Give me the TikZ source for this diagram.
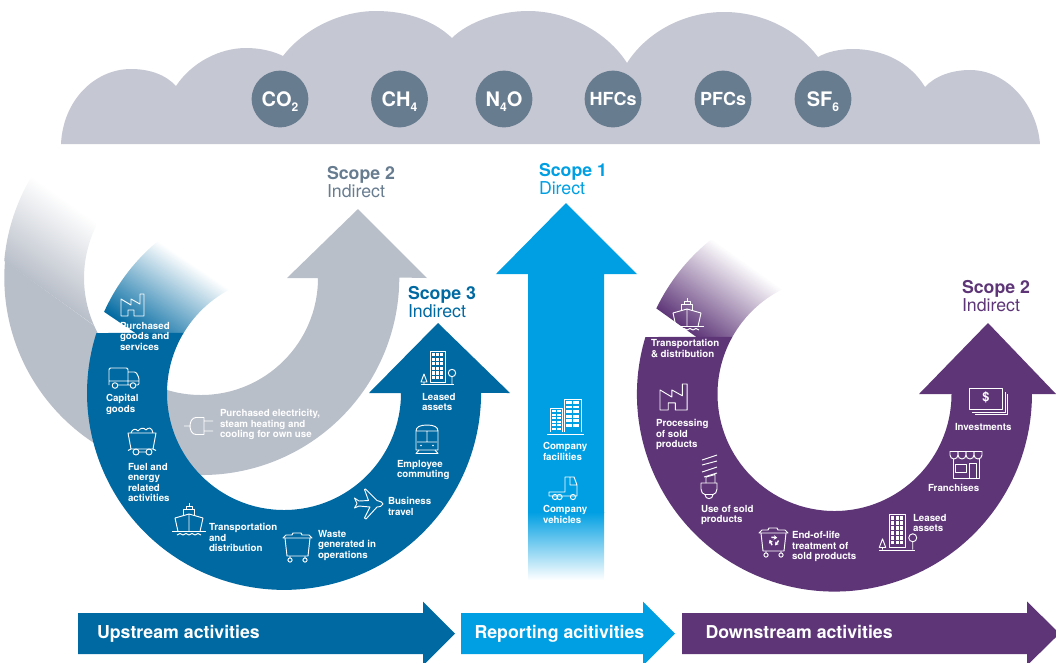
\documentclass[tikz,border=0pt]{standalone}
\usepackage{fontspec}
\setmainfont{TeX Gyre Heros}
\usetikzlibrary{arrows.meta}
\definecolor{cloudgrey}{HTML}{C5C7D3}
\definecolor{gasgrey}{HTML}{687C90}
\definecolor{scopegrey}{HTML}{B9BFC9}
\definecolor{scopeblue}{HTML}{0069A1}
\definecolor{scopecyan}{HTML}{009FE3}
\definecolor{scopepurple}{HTML}{5E3678}
\newcommand{\gassub}[1]{\smash{\raisebox{-0.5ex}{\fontsize{9}{9}\selectfont #1}}}
\tikzset{every picture/.style={line width=0.75pt},
  iconline/.style={draw=white,line width=0.7pt,line join=round},
  gascircle/.style={circle,fill=gasgrey,text=white,minimum size=42.5pt,inner sep=0pt,font=\bfseries\fontsize{15}{15}\selectfont},
  iconlabel/.style={anchor=north west,inner sep=0pt,align=left,text=white,font=\bfseries\fontsize{7.3}{7.75}\selectfont},
  scopelabel/.style={anchor=north west,inner sep=0pt,align=left,font=\fontsize{13.3}{13.2}\selectfont},
  barlabel/.style={anchor=base west,inner sep=0pt,text=white,font=\bfseries\fontsize{13.3}{13.5}\selectfont},
  pics/factoryicon/.style={code={
    \draw[iconline] (0,22) -- (0,5) -- (10,11) -- (10,5) -- (19,10) -- (19,0) -- (23,0) -- (23,22) -- (13,22) -- (13,16) -- (7,16) -- (7,22) -- cycle;}},
  pics/shipicon/.style={code={
    \draw[iconline] (3,15) -- (17,11) -- (31,15) -- (28,28.5) -- (6,28.5) -- cycle (17,11) -- (17,28.5);
    \draw[iconline] (11.5,13) -- (11.5,6) -- (22.5,6) -- (22.5,13) (14,6) -- (14,3) -- (20,3) -- (20,6) (17,3) -- (17,0);
    \draw[iconline] (0,28.5) -- (34,28.5);
    \draw[iconline] (5,32) .. controls (7,30) and (9,30) .. (11,32) .. controls (13,30) and (15,30) .. (17,32) .. controls (19,30) and (21,30) .. (23,32) .. controls (25,30) and (27,30) .. (29,32);}},
  pics/binicon/.style={code={
    \draw[iconline] (0,7) -- (3,4) -- (9,4) -- (10,2) -- (18,2) -- (19,4) -- (26,4) -- (29,7) -- cycle;
    \draw[iconline] (2,7) -- (4,25) -- (25,25) -- (27,7);
    \draw[iconline] (7,25) -- (7,27) (22,25) -- (22,27) (7,29) circle[radius=2.1] (22,29) circle[radius=2.1];}},
  pics/towericon/.style={code={
    \draw[iconline] (0,0) rectangle (15,31);
    \foreach \c in {0,1,2}
      \foreach \r in {0,...,5}
        \fill[white] ({2.2+\c*3.9},{2+\r*4.6}) rectangle +(2.7,3.2);
    \draw[iconline] (-9,33.5) -- (24,33.5);
    \draw[iconline] (-6,23) -- (-9,31) -- (-3,31) -- cycle (-6,31) -- (-6,33);
    \draw[iconline] (22,22) circle[radius=3.7] (22,25.7) -- (22,33);}}
}
\begin{document}
\begin{tikzpicture}[x=0.75pt,y=0.75pt,yscale=-1,xscale=1]
\useasboundingbox (0,0) rectangle (1056,662);

%Shape: Cloud
\fill[cloudgrey] (61,144) .. controls (63,100) and (95,69) .. (131,69) .. controls (150,69) and (166,75) .. (176,86)
  .. controls (192,62) and (220,48) .. (246,48) .. controls (260,48) and (273,51) .. (283,56)
  .. controls (303,30) and (339,11) .. (376,11) .. controls (406,11) and (433,20) .. (452,38)
  .. controls (468,22) and (499,11) .. (528,11) .. controls (569,11) and (608,33) .. (627,63)
  .. controls (646,33) and (683,12) .. (724,12) .. controls (766,12) and (800,33) .. (818,57)
  .. controls (827,52) and (839,49) .. (853,49) .. controls (882,49) and (910,62) .. (925,87)
  .. controls (935,76) and (952,70) .. (970,70) .. controls (1007,70) and (1037,105) .. (1040,144) -- cycle;
% Text Node
\node (gasco) [gascircle] at (280,99) {CO\gassub{2}};
\node (gasch) [gascircle] at (399.5,99) {CH\gassub{4}};
\node (gasno) [gascircle] at (504,99) {N\gassub{4}O};
\node (gashfc) [gascircle,font=\bfseries\fontsize{13.5}{13.5}\selectfont] at (613,99) {HFCs};
\node (gaspfc) [gascircle,font=\bfseries\fontsize{13.5}{13.5}\selectfont] at (723,99) {PFCs};
\node (gassf) [gascircle] at (823,99) {SF\gassub{6}};

%Curve Lines: grey ring, fade at its start
\begin{scope}
\clip (31.7,176.3) arc[start angle=211,end angle=175,radius=197.5] -- (99.7,336.5) arc[start angle=150,end angle=207.9,radius=117] -- cycle;
\shade[transform canvas={rotate around={-35.6:(33,-177)}},top color=white,bottom color=scopegrey] (-170,177) rectangle (233,262);
\end{scope}
%Curve Lines: grey ring with head
\fill[scopegrey] (5,261) arc[start angle=184.8,end angle=0,radius=197.5] -- (427,278) -- (358,209) -- (287,278) -- (318,278) arc[start angle=0,end angle=156,radius=117] -- cycle;

%Curve Lines: blue ring, fade at its start
\begin{scope}
\clip (163,237) arc[start angle=232.2,end angle=197.7,radius=197] -- (183.6,333) arc[start angle=210.9,end angle=246.1,radius=117] -- cycle;
\shade[transform canvas={rotate around={-34:(163,-237)}},top color=white,bottom color=scopeblue] (-40,243) rectangle (363,332);
\end{scope}
%Curve Lines: blue ring with head
\fill[scopeblue] (96.4,333) arc[start angle=197.7,end angle=0,radius=197] -- (510,393) -- (438,323) -- (369,393) -- (401,393) arc[start angle=0,end angle=210.9,radius=117] -- cycle;

%Curve Lines: purple ring, fade at its start
\begin{scope}
\clip (717,235) arc[start angle=233.5,end angle=196.8,radius=197.5] -- (732.3,337) arc[start angle=209.2,end angle=246.5,radius=117] -- cycle;
\shade[transform canvas={rotate around={-35.5:(717,-235)}},top color=white,bottom color=scopepurple] (517,241) rectangle (917,330);
\end{scope}
%Curve Lines: purple ring with head
\fill[scopepurple] (645.4,337) arc[start angle=196.8,end angle=0,radius=197.5] -- (1056,394) -- (988,323) -- (919,394) -- (951.5,394) arc[start angle=0,end angle=209.2,radius=117] -- cycle;

%Shape: Arrow up
\fill[scopecyan] (528,513) -- (528,274) -- (496,274) -- (566,203) -- (637,274) -- (604,274) -- (604,513) -- cycle;
\shade[top color=scopecyan,bottom color=white] (528,512) rectangle (604,580);

%Shape: Bars along the bottom
\fill[scopeblue] (78,613) -- (423,613) -- (423,601.5) -- (455,633.5) -- (423,665.5) -- (423,654) -- (78,654) -- cycle;
\fill[scopecyan] (461,613) -- (643,613) -- (643,601.5) -- (675,633.5) -- (643,665.5) -- (643,654) -- (461,654) -- cycle;
\fill[scopepurple] (682,613) -- (1027,613) -- (1027,601.5) -- (1056,630) -- (1056,637) -- (1027,665.5) -- (1027,654) -- (682,654) -- cycle;
% Text Node
\node (barup) [barlabel] at (96.5,638) {Upstream activities};
\node (barrep) [barlabel] at (474,638) {Reporting acitivities};
\node (bardown) [barlabel] at (705,638) {Downstream activities};

% Text Node
\node (scopetwo) [scopelabel,text=gasgrey] at (326.5,166) {\textbf{Scope 2}\\Indirect};
\node (scopeone) [scopelabel,text=scopecyan] at (538.5,163) {\textbf{Scope 1}\\Direct};
\node (scopethree) [scopelabel,text=scopeblue] at (407.5,286) {\textbf{Scope 3}\\Indirect};
\node (scopetwob) [scopelabel,text=scopepurple] at (961.5,280) {\textbf{Scope 2}\\Indirect};

%Icons: grey ring
\draw[iconline] (184,426) -- (190,426) (204,421) -- (213,421) (204,431) -- (213,431) (204,417.5) -- (196,417.5) .. controls (192,417.5) and (190,422) .. (190,426) .. controls (190,430) and (192,434.5) .. (196,434.5) -- (204,434.5) -- cycle;
\node (lblpower) [iconlabel] at (219.5,409) {Purchased electricity,\\steam heating and\\cooling for own use};

%Icons: blue ring
\pic[yscale=-1] at (121,294) {factoryicon};
\node (lblgoods) [iconlabel] at (119.5,322) {Purchased\\goods and\\services};
\draw[iconline,rounded corners=1pt] (109,385) -- (109,368) -- (128,368) -- (128,385) (128,372) -- (136,372) -- (139,378) -- (139,385) -- (136,385) (109,381) -- (139,381) (118,385) -- (130,385);
\draw[iconline] (115,385.5) circle[radius=2.8] (133,385.5) circle[radius=2.8];
\node (lblcapital) [iconlabel] at (105.5,394) {Capital\\goods};
\draw[iconline] (128,433) -- (156,433) -- (153,449) -- (131,449) -- cycle;
\draw[iconline] (131,433) .. controls (132,429) and (136,428) .. (138,431) .. controls (140,428) and (144,427) .. (146,430) .. controls (148,427) and (152,427) .. (153,433);
\draw[iconline] (136,452) circle[radius=3] (149,452) circle[radius=3] (139,452) -- (146,452) (131,449) -- (128,450.5) (153,449) -- (156,450.5);
\node (lblfuel) [iconlabel] at (127.5,463) {Fuel and\\energy\\related\\activities};
\pic[yscale=-1] at (172,503) {shipicon};
\node (lbltransa) [iconlabel] at (208.5,523) {Transportation\\and\\distribution};
\pic[yscale=-1] at (283,531) {binicon};
\node (lblwaste) [iconlabel] at (317.5,530) {Waste\\generated in\\operations};
\draw[iconline] (383,504) .. controls (382,502) .. (377,500.5) -- (365.5,489) -- (364.5,489.5) -- (368.5,500.5) -- (359,501) -- (354.5,498) -- (357,503.5) -- (354.5,508) -- (359,506) -- (370,507) -- (364.5,518) -- (366,519) -- (377,507) .. controls (381,506.5) .. (383,504) -- cycle;
\node (lbltravel) [iconlabel] at (387.5,497) {Business\\travel};
\draw[iconline] (416,450) -- (416,431) .. controls (416,427) and (420,425) .. (427,425) .. controls (434,425) and (438,427) .. (438,431) -- (438,450) -- cycle;
\draw[iconline] (416,431) -- (438,431) (417,442) -- (437,442) (427,431) -- (427,442) (419,450) -- (416,453.5) -- (438,453.5) -- (435,450);
\fill[white] (421,445.5) circle[radius=0.9] (433,445.5) circle[radius=0.9];
\node (lblcommute) [iconlabel] at (396.5,460) {Employee\\commuting};
\pic[yscale=-1] at (430,351) {towericon};
\node (lblleasea) [iconlabel] at (421.5,393) {Leased\\assets};

%Icons: cyan arrow
\draw[iconline] (550,432) -- (550,408) -- (562,408) -- (562,432) (564,432) -- (564,399) -- (581,399) -- (581,432) (547,434.5) -- (584,434.5);
\foreach \r in {0,...,5}{
  \fill[white] (552,{410+\r*3.5}) rectangle +(3.5,2.2);
  \fill[white] (557,{410+\r*3.5}) rectangle +(3.5,2.2);
  \fill[white] (566,{401+\r*4.6}) rectangle +(5.5,2.8);
  \fill[white] (573,{401+\r*4.6}) rectangle +(5.5,2.8);
}
\node (lblfacility) [iconlabel] at (542.5,442) {Company\\facilities};
\draw[iconline] (565,492) -- (565,477) -- (574,477) -- (577,485) -- (577,496) -- (549,496) -- (549,492) -- cycle (570,477) -- (570,485) -- (577,485);
\draw[iconline] (555,497) circle[radius=2.6] (559.5,497) circle[radius=2.6] (573,497) circle[radius=2.6];
\node (lblvehicle) [iconlabel] at (542.5,505) {Company\\vehicles};

%Icons: purple ring
\pic[yscale=-1] at (670,298) {shipicon};
\node (lbltransb) [iconlabel] at (650.5,339) {Transportation\\\& distribution};
\pic[scale=1.18,yscale=-1] at (660,384) {factoryicon};
\node (lblprocess) [iconlabel] at (655.5,419) {Processing\\of sold\\products};
\draw[iconline] (702,460) -- (717,455) (702,465) -- (717,461) (702,472) -- (717,467) (704,477) -- (717,473);
\draw[iconline] (706,483) -- (706,477) -- (715,474.5) -- (715,483);
\draw[iconline] (701,483) -- (717,483) -- (717,489) .. controls (717,492) and (715,494.5) .. (713,494.5) -- (705,494.5) .. controls (703,494.5) and (701,492) .. (701,489) -- cycle;
\draw[iconline] (705,494.5) .. controls (705,500) and (713,500) .. (713,494.5);
\node (lbluse) [iconlabel] at (700.5,505) {Use of sold\\products};
\pic[yscale=-1] at (759,526) {binicon};
\foreach \a in {90,210,330}
  \draw[iconline,line width=1.1pt,-{Stealth[length=2.6pt,width=3.4pt]}] ({774+4.6*cos(\a+35)},{541-4.6*sin(\a+35)}) -- ({774+4.6*cos(\a-45)},{541-4.6*sin(\a-45)});
\node (lblendlife) [iconlabel] at (791.5,531) {End-of-life\\treatment of\\sold products};
\pic[scale=1.08,yscale=-1] at (889,514) {towericon};
\node (lblleaseb) [iconlabel] at (912.5,514) {Leased\\assets};
\draw[iconline] (950,451) -- (982,451);
\foreach \x in {950,958,966,974}
  \draw[iconline] (\x,451) -- (\x,455) arc[start angle=180,end angle=0,radius=4] -- ({\x+8},451);
\draw[iconline] (953,459) -- (953,478) -- (979,478) -- (979,459) (955,464) rectangle (966.5,472.5) (969.5,478) -- (969.5,463.5) -- (976.5,463.5) -- (976.5,478);
\node (lblfranchise) [iconlabel] at (927.5,484) {Franchises};
\draw[iconline] (969,388) rectangle (1002,409);
\draw[iconline] (1005,392) -- (1005,412) -- (972,412) (1007,394) -- (1007,414.5) -- (975,414.5);
\node (iconbuck) [inner sep=0pt,text=white,font=\bfseries\fontsize{9.5}{9.5}\selectfont] at (986,397.5) {\$};
\node (lblinvest) [iconlabel] at (954.5,423) {Investments};
\end{tikzpicture}
\end{document}
